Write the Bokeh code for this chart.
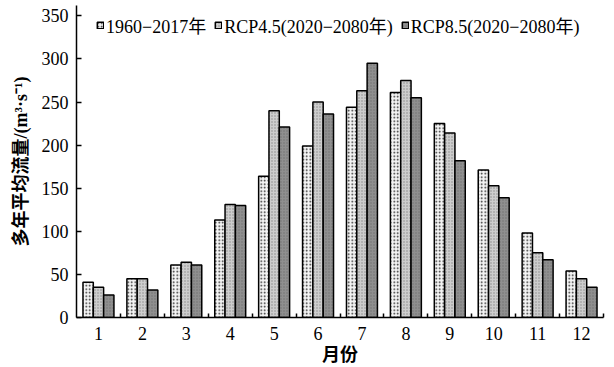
from bokeh.plotting import figure
from bokeh.models import ColumnDataSource, Range1d, FixedTicker, Legend, LegendItem
from bokeh.embed import file_html
from bokeh.resources import INLINE
from bokeh.transform import dodge

months = [1, 2, 3, 4, 5, 6, 7, 8, 9, 10, 11, 12]
hist = [41, 45, 61, 113, 164, 199, 244, 261, 225, 171, 98, 54]
rcp45 = [35, 45, 64, 131, 240, 250, 263, 275, 214, 153, 75, 45]
rcp85 = [26, 32, 61, 130, 221, 236, 295, 255, 182, 139, 67, 35]
series_names = ["1960\u22122017年", "RCP4.5(2020\u22122080年)", "RCP8.5(2020\u22122080年)"]
y_ticks = [0, 50, 100, 150, 200, 250, 300, 350]

src = ColumnDataSource(dict(m=months, a=hist, b=rcp45, c=rcp85))

FONT = "Liberation Serif, Noto Sans CJK SC"

p = figure(width=614, height=367, output_backend="svg", toolbar_location=None,
           x_range=Range1d(0.5, 12.5), y_range=Range1d(0, 362))
p.min_border_left = 76
p.min_border_right = 11
p.min_border_top = 5
p.min_border_bottom = 49
p.outline_line_color = None
p.grid.visible = False
p.background_fill_color = "white"
p.border_fill_color = "white"

w = 0.235
r1 = p.vbar(x=dodge("m", -w, range=p.x_range), top="a", width=w, source=src,
            fill_color="#f4f4f4", line_color="black", line_width=1.5,
            hatch_pattern="dot", hatch_color="#222222", hatch_scale=3.5, hatch_weight=1.8)
r2 = p.vbar(x=dodge("m", 0, range=p.x_range), top="b", width=w, source=src,
            fill_color="#cdcdcd", line_color="black", line_width=1.5,
            hatch_pattern="dot", hatch_color="#8a8a8a", hatch_scale=3, hatch_weight=1)
r3 = p.vbar(x=dodge("m", w, range=p.x_range), top="c", width=w, source=src,
            fill_color="#8f8f8f", line_color="black", line_width=1.5,
            hatch_pattern="dot", hatch_color="#6f6f6f", hatch_scale=3, hatch_weight=1)

# axes
p.xaxis.ticker = FixedTicker(ticks=months, minor_ticks=[m + 0.5 for m in months])
p.xaxis.major_tick_in = 0
p.xaxis.major_tick_out = 0
p.xaxis.minor_tick_in = 4
p.xaxis.minor_tick_out = 0
p.xaxis.minor_tick_line_color = "black"
p.xaxis.minor_tick_line_width = 1.5
p.xaxis.major_label_standoff = 9
p.xaxis.axis_label = "月份"
p.xaxis.axis_label_standoff = 2

p.yaxis.ticker = FixedTicker(ticks=y_ticks)
p.yaxis.major_tick_in = 5
p.yaxis.major_tick_out = 0
p.yaxis.minor_tick_in = 0
p.yaxis.minor_tick_out = 0
p.yaxis.major_label_standoff = 8
p.yaxis.axis_label = "多年平均流量/(m³·s⁻¹)"
p.yaxis.axis_label_standoff = 8

for ax in (p.xaxis[0], p.yaxis[0]):
    ax.axis_line_color = "black"
    ax.axis_line_width = 1.5
    ax.major_tick_line_color = "black"
    ax.major_tick_line_width = 1.5
    ax.major_label_text_font = FONT
    ax.major_label_text_font_size = "18px"
    ax.major_label_text_color = "black"
    ax.axis_label_text_font = FONT
    ax.axis_label_text_font_size = "18px"
    ax.axis_label_text_font_style = "bold"
    ax.axis_label_text_color = "black"

legend = Legend(items=[LegendItem(label=series_names[0], renderers=[r1]),
                       LegendItem(label=series_names[1], renderers=[r2]),
                       LegendItem(label=series_names[2], renderers=[r3])],
                orientation="horizontal")
legend.label_text_font = FONT
legend.label_text_font_size = "18px"
legend.label_text_color = "black"
legend.glyph_width = 8
legend.glyph_height = 8
legend.label_standoff = 2
legend.spacing = 8
legend.padding = 0
legend.margin = 0
legend.border_line_color = None
legend.background_fill_alpha = 0
legend.label_height = 18
legend.location = (20, 318 - 5 - 34)
p.add_layout(legend)

open("out.html", "w").write(file_html(p, INLINE))
